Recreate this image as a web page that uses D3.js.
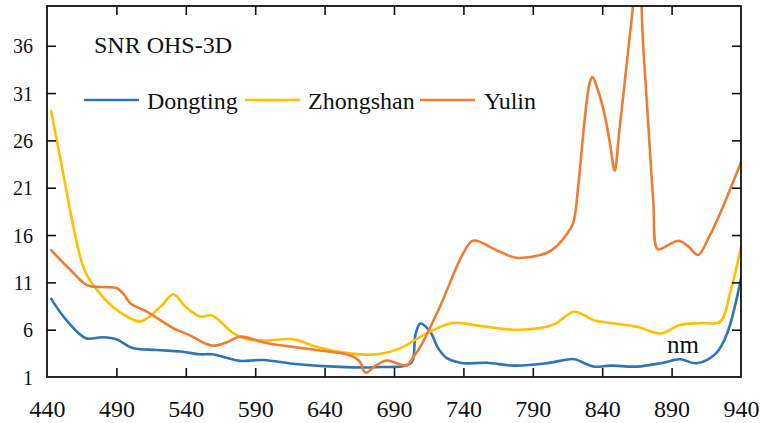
<!DOCTYPE html>
<html>
<head>
<meta charset="utf-8">
<script src="https://cdn.jsdelivr.net/npm/d3@7"></script>
<style>
  html, body { margin: 0; padding: 0; background: #fff; }
</style>
</head>
<body>
<svg id="chart" width="761" height="423"></svg>
<script>
// ---- data ----
const title = "SNR OHS-3D";
const unitLabel = "nm";
const seriesNames = ["Dongting", "Zhongshan", "Yulin"];
const xTicks = [440, 490, 540, 590, 640, 690, 740, 790, 840, 890, 940];
const yTicks = [1, 6, 11, 16, 21, 26, 31, 36];

const dongtingWl = [443, 454, 468, 480, 490, 501, 519, 536, 550, 559, 570, 579, 596, 617, 639, 668, 680, 697, 703, 705.5, 709, 716, 722, 728, 735, 740, 757, 776, 800, 818, 821, 834, 846, 865, 882, 896, 908, 922, 930, 940];
const dongtingVal = [9.25, 7.0, 5.1, 5.2, 5.0, 4.1, 3.85, 3.7, 3.4, 3.4, 3.0, 2.7, 2.8, 2.4, 2.15, 2.0, 2.05, 2.15, 2.6, 5.5, 6.65, 5.8, 4.0, 3.0, 2.6, 2.45, 2.5, 2.2, 2.45, 2.9, 2.85, 2.1, 2.2, 2.1, 2.45, 2.87, 2.45, 3.5, 5.6, 11.4];

const zhongshanWl = [443, 453, 459, 467, 476, 490, 500, 507, 514, 523, 531, 540, 550, 559, 566, 574, 584, 598, 617, 634, 658, 678, 694, 711, 732, 752, 776, 800, 807, 820, 834, 846, 865, 882, 896, 911, 925, 932, 940];
const zhongshanVal = [29.1, 21.5, 16.9, 12.3, 10.2, 8.1, 7.2, 6.85, 7.4, 8.6, 9.75, 8.4, 7.4, 7.5, 6.7, 5.65, 5.0, 4.85, 5.0, 4.2, 3.5, 3.4, 4.0, 5.4, 6.7, 6.4, 6.0, 6.3, 6.7, 7.9, 7.0, 6.7, 6.3, 5.6, 6.5, 6.7, 6.85, 9.8, 14.7];

const yulinWl = [443, 457, 469, 483, 490, 495, 500, 512, 531, 543, 553, 560, 570, 579, 598, 634, 658, 665.5, 668, 670, 677.5, 685, 692, 699, 704, 709, 723, 740, 747, 764, 778, 800, 807, 814, 819, 822.7, 826.4, 829, 831.2, 833, 836, 841, 845.6, 849, 852, 855, 858, 861, 864, 866.5, 869.6, 873.2, 876.8, 880, 887, 895, 902, 909, 917, 925, 940];
const yulinVal = [14.4, 12.3, 10.7, 10.5, 10.4, 9.8, 8.8, 7.9, 6.15, 5.4, 4.6, 4.3, 4.7, 5.26, 4.6, 3.85, 3.3, 2.6, 1.7, 1.45, 2.27, 2.75, 2.45, 2.2, 3.1, 4.2, 8.4, 14.1, 15.4, 14.4, 13.6, 14.1, 14.8, 16.0, 17.2, 21.1, 26.8, 30.3, 32.2, 32.7, 31.7, 29.2, 25.7, 22.8, 26.5, 30.5, 34.5, 38.5, 42.0, 43.0, 35.8, 27.7, 19.6, 14.5, 14.9, 15.4, 14.8, 13.9, 15.8, 18.3, 23.7];

const colors = ["#2E75B6", "#FFC000", "#ED7D31"];

// pick the first installed serif family (Times-like preferred)
function hasFont(name) {
  const c = document.createElement("canvas").getContext("2d");
  const s = "Dongting Zhongshan 0123456789 mmmWWiil";
  c.font = "40px monospace";
  const a = c.measureText(s).width;
  c.font = `40px "${name}", monospace`;
  const b = c.measureText(s).width;
  c.font = "40px sans-serif";
  const a2 = c.measureText(s).width;
  c.font = `40px "${name}", sans-serif`;
  const b2 = c.measureText(s).width;
  return a !== b || a2 !== b2;
}
const candidates = ["Liberation Serif", "Times New Roman", "Times", "Tinos", "Nimbus Roman", "Noto Serif", "DejaVu Serif"];
const found = candidates.find(hasFont) || "serif";
const FONT = `"${found}", serif`;
const isDejaVu = found === "DejaVu Serif";
const fs = k => (isDejaVu ? k * 0.82 : k) + "px";

// ---- layout ----
const svg = d3.select("#chart");
const L = 47, R = 741, T = 6, B = 377;

const x = d3.scaleLinear().domain([440, 940]).range([L, R]);
const y = d3.scaleLinear().domain([1, 40.2]).range([B, T]);

const series = [
  { name: seriesNames[0], wl: dongtingWl, v: dongtingVal, color: colors[0] },
  { name: seriesNames[1], wl: zhongshanWl, v: zhongshanVal, color: colors[1] },
  { name: seriesNames[2], wl: yulinWl, v: yulinVal, color: colors[2] }
];

svg.append("defs").append("clipPath").attr("id", "plotclip")
  .append("rect").attr("x", L).attr("y", T).attr("width", R - L).attr("height", B - T);

const line = d3.line()
  .x(d => x(d[0]))
  .y(d => y(d[1]))
  .curve(d3.curveCatmullRom.alpha(0.5));

const gLines = svg.append("g").attr("clip-path", "url(#plotclip)");
series.forEach(s => {
  gLines.append("path")
    .datum(s.wl.map((w, i) => [w, s.v[i]]))
    .attr("fill", "none")
    .attr("stroke", s.color)
    .attr("stroke-width", 2.6)
    .attr("stroke-linejoin", "round")
    .attr("stroke-linecap", "round")
    .attr("d", line);
});

// ---- axes ----
const innerTicks = xTicks.filter(t => t !== 440 && t !== 940);
const innerYTicks = yTicks.filter(t => t !== 1);

const xAxis = svg.append("g").attr("transform", `translate(0,${B})`)
  .call(d3.axisBottom(x).tickValues(xTicks).tickFormat(d3.format("d")).tickSizeInner(-9).tickSizeOuter(0));
xAxis.attr("font-family", FONT);
xAxis.select(".domain").remove();
xAxis.selectAll(".tick line")
  .attr("stroke", "#111").attr("stroke-width", 1.6)
  .style("display", d => innerTicks.includes(d) ? null : "none");
xAxis.selectAll(".tick text")
  .attr("y", 39.7).attr("dy", null)
  .attr("fill", "#111")
  .attr("font-family", FONT)
  .attr("font-size", fs(24));

const xTop = svg.append("g").attr("transform", `translate(0,${T})`)
  .call(d3.axisTop(x).tickValues(innerTicks).tickFormat("").tickSizeInner(-9).tickSizeOuter(0));
xTop.select(".domain").remove();
xTop.selectAll(".tick line").attr("stroke", "#111").attr("stroke-width", 1.6);

const yAxis = svg.append("g").attr("transform", `translate(${L},0)`)
  .call(d3.axisLeft(y).tickValues(yTicks).tickFormat(d3.format("d")).tickSizeInner(-9).tickSizeOuter(0));
yAxis.attr("font-family", FONT);
yAxis.select(".domain").remove();
yAxis.selectAll(".tick line")
  .attr("stroke", "#111").attr("stroke-width", 1.6)
  .style("display", d => innerYTicks.includes(d) ? null : "none");
yAxis.selectAll(".tick text")
  .attr("x", -14).attr("dy", "0.35em")
  .attr("fill", "#111")
  .attr("font-family", FONT)
  .attr("font-size", fs(20));

const yRight = svg.append("g").attr("transform", `translate(${R},0)`)
  .call(d3.axisRight(y).tickValues(innerYTicks).tickFormat("").tickSizeInner(-9).tickSizeOuter(0));
yRight.select(".domain").remove();
yRight.selectAll(".tick line").attr("stroke", "#111").attr("stroke-width", 1.6);

// frame
svg.append("rect")
  .attr("x", L).attr("y", T).attr("width", R - L).attr("height", B - T)
  .attr("fill", "none").attr("stroke", "#111").attr("stroke-width", 1.8);

// ---- title & legend ----
svg.append("text").attr("x", 94).attr("y", 53)
  .attr("font-family", FONT)
  .attr("font-size", fs(24)).attr("fill", "#111").text(title);

const legendPos = [
  { lx: 84, tx: 147 },
  { lx: 245, tx: 308 },
  { lx: 420, tx: 484 }
];
series.forEach((s, i) => {
  const p = legendPos[i];
  svg.append("line")
    .attr("x1", p.lx).attr("x2", p.lx + 55)
    .attr("y1", 100).attr("y2", 100)
    .attr("stroke", s.color).attr("stroke-width", 2.6);
  svg.append("text")
    .attr("x", p.tx).attr("y", 109)
    .attr("font-family", FONT)
    .attr("font-size", fs(24)).attr("fill", "#111")
    .text(s.name);
});

svg.append("text").attr("x", 667).attr("y", 353)
  .attr("font-family", FONT)
  .attr("font-size", fs(25)).attr("fill", "#111").text(unitLabel);
</script>
</body>
</html>
